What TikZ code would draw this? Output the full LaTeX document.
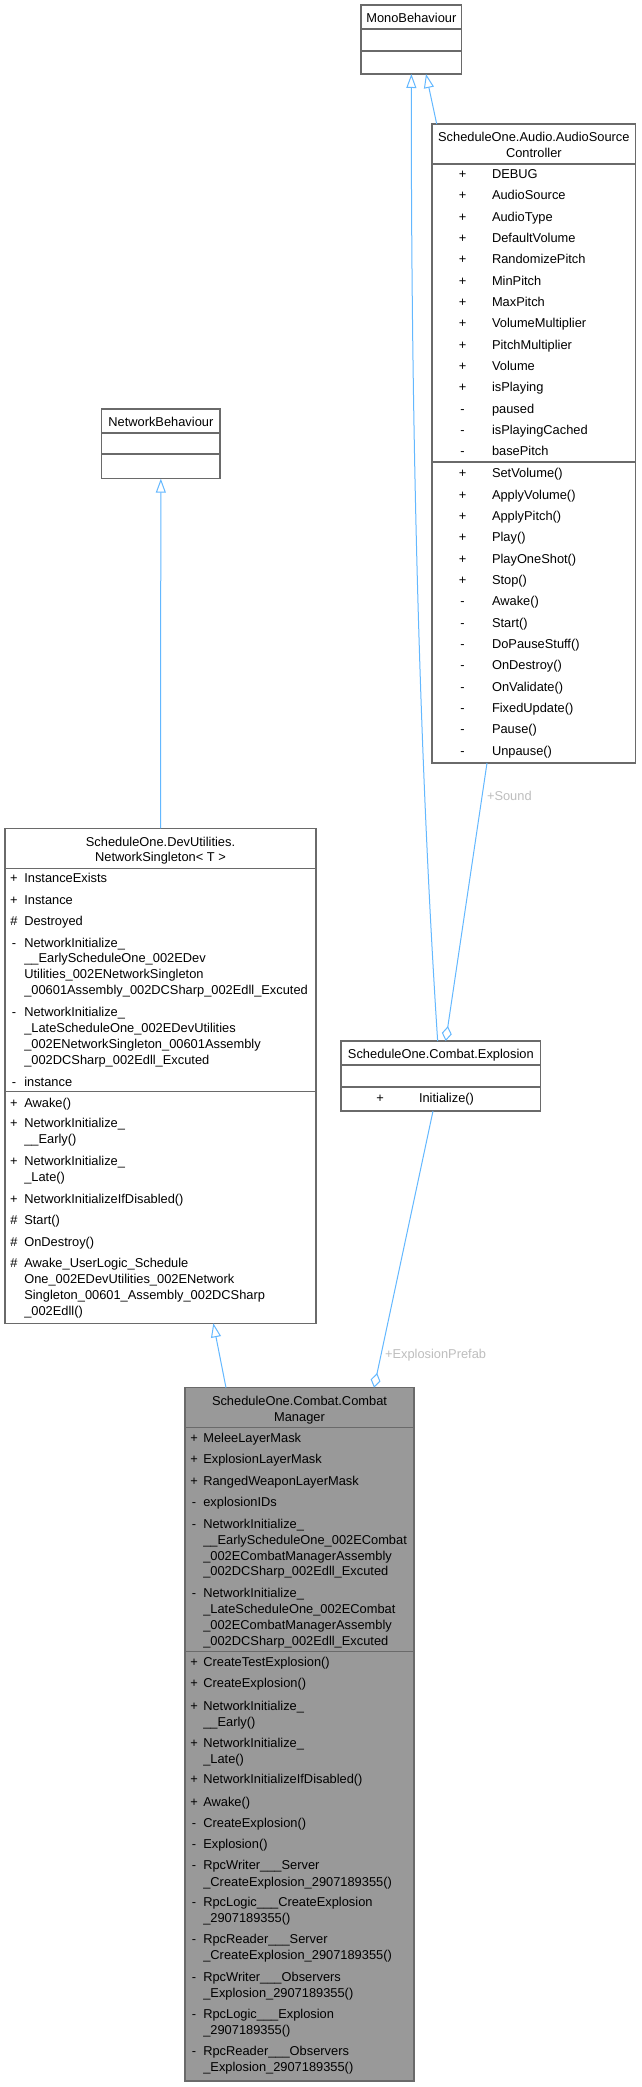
\documentclass[tikz,border=0pt]{standalone}
\usepackage{fontspec}
\setmainfont{Liberation Sans}
\usetikzlibrary{arrows.meta}
\definecolor{edgeblue}{HTML}{63B8FF}
\definecolor{boxgray}{HTML}{6A6A6A}
\definecolor{cmfill}{HTML}{999999}
\definecolor{lblgray}{HTML}{BEBEBE}
\newcounter{tn}
\newcommand\tx[3]{\stepcounter{tn}\edef\nm{t\arabic{tn}}\node[txt,anchor=base west] (\nm) at (#1,#2+4.6) {#3};}
\newcommand\tc[3]{\stepcounter{tn}\edef\nm{t\arabic{tn}}\node[txt,anchor=base] (\nm) at (#1,#2+4.6) {#3};}
\newcommand\mem[5]{\tc{#1}{#3}{#4}\tx{#2}{#3}{#5}}
\tikzset{
  txt/.style={inner sep=0pt, outer sep=0pt, font=\fontsize{12.85}{14}\selectfont, text=black},
  lbl/.style={inner sep=0pt, outer sep=0pt, font=\fontsize{12.85}{14}\selectfont, text=lblgray},
  box/.style={draw=boxgray, line width=1.1pt, fill=white, inner sep=0pt, outer sep=0pt, anchor=north west},
  sepline/.style={draw=boxgray, line width=1.1pt},
  edge/.style={draw=edgeblue, line width=1pt},
  inh/.style={edge, -{Triangle[open, length=14pt, width=10pt]}},
  agg/.style={edge, -{Diamond[open, length=15pt, width=10pt]}},
}
\begin{document}
\begin{tikzpicture}[x=1pt, y=-1pt]
\useasboundingbox (0,0) rectangle (641,2087);
\fill[white] (0,0) rectangle (641,2087);

% ---------- boxes ----------
\node[box, minimum width=100.7pt, minimum height=69pt] (mono) at (361,5) {};
\draw[sepline] (361,29) -- (461.7,29);
\draw[sepline] (361,51) -- (461.7,51);

\node[box, minimum width=203.7pt, minimum height=639pt] (audio) at (432,124) {};
\draw[sepline] (432,164) -- (635.7,164);
\draw[sepline] (432,462) -- (635.7,462);

\node[box, minimum width=118.3pt, minimum height=69.7pt] (nb) at (101.7,409) {};
\draw[sepline] (101.7,433) -- (220,433);
\draw[sepline] (101.7,454) -- (220,454);

\node[box, minimum width=311pt, minimum height=495pt] (ns) at (5,828.3) {};
\draw[sepline] (5,868.3) -- (316,868.3);
\draw[sepline] (5,1091.7) -- (316,1091.7);

\node[box, minimum width=199.7pt, minimum height=70pt] (expl) at (341,1041) {};
\draw[sepline] (341,1065) -- (540.7,1065);
\draw[sepline] (341,1087) -- (540.7,1087);

\node[box, fill=cmfill, minimum width=229pt, minimum height=693.3pt] (cm) at (185,1387.7) {};
\draw[sepline] (185,1427.7) -- (414,1427.7);
\draw[sepline] (185,1651.7) -- (414,1651.7);

% ---------- MonoBehaviour ----------
\tc{411.35}{18}{MonoBehaviour}

% ---------- AudioSourceController ----------
\tc{533.85}{137.3}{ScheduleOne.Audio.AudioSource}
\tc{533.85}{153.3}{Controller}
\mem{462.5}{492}{174}{+}{DEBUG}
\mem{462.5}{492}{195.3}{+}{AudioSource}
\mem{462.5}{492}{216.7}{+}{AudioType}
\mem{462.5}{492}{238}{+}{DefaultVolume}
\mem{462.5}{492}{259.3}{+}{RandomizePitch}
\mem{462.5}{492}{280.7}{+}{MinPitch}
\mem{462.5}{492}{302}{+}{MaxPitch}
\mem{462.5}{492}{323.3}{+}{VolumeMultiplier}
\mem{462.5}{492}{344.7}{+}{PitchMultiplier}
\mem{462.5}{492}{366}{+}{Volume}
\mem{462.5}{492}{387.3}{+}{isPlaying}
\mem{462.5}{492}{408.7}{-}{paused}
\mem{462.5}{492}{430}{-}{isPlayingCached}
\mem{462.5}{492}{451.3}{-}{basePitch}
\mem{462.5}{492}{473.3}{+}{SetVolume()}
\mem{462.5}{492}{494.6}{+}{ApplyVolume()}
\mem{462.5}{492}{516}{+}{ApplyPitch()}
\mem{462.5}{492}{537.3}{+}{Play()}
\mem{462.5}{492}{558.6}{+}{PlayOneShot()}
\mem{462.5}{492}{580}{+}{Stop()}
\mem{462.5}{492}{601.3}{-}{Awake()}
\mem{462.5}{492}{622.6}{-}{Start()}
\mem{462.5}{492}{644}{-}{DoPauseStuff()}
\mem{462.5}{492}{665.3}{-}{OnDestroy()}
\mem{462.5}{492}{686.6}{-}{OnValidate()}
\mem{462.5}{492}{708}{-}{FixedUpdate()}
\mem{462.5}{492}{729.3}{-}{Pause()}
\mem{462.5}{492}{750.6}{-}{Unpause()}

% ---------- NetworkBehaviour ----------
\tc{160.85}{422.3}{NetworkBehaviour}

% ---------- NetworkSingleton ----------
\tc{160.5}{841.7}{ScheduleOne.DevUtilities.}
\tc{160.5}{857.3}{NetworkSingleton< T >}
\mem{14}{24.3}{878.3}{+}{InstanceExists}
\mem{14}{24.3}{899.7}{+}{Instance}
\mem{14}{24.3}{921}{\#}{Destroyed}
\mem{14}{24.3}{942.7}{-}{NetworkInitialize\_}
\tx{24.3}{958.3}{\_\_EarlyScheduleOne\_002EDev}
\tx{24.3}{974.2}{Utilities\_002ENetworkSingleton}
\tx{24.3}{990.1}{\_00601Assembly\_002DCSharp\_002Edll\_Excuted}
\mem{14}{24.3}{1011.7}{-}{NetworkInitialize\_}
\tx{24.3}{1027.6}{\_LateScheduleOne\_002EDevUtilities}
\tx{24.3}{1043.5}{\_002ENetworkSingleton\_00601Assembly}
\tx{24.3}{1059.4}{\_002DCSharp\_002Edll\_Excuted}
\mem{14}{24.3}{1081.7}{-}{instance}
\mem{14}{24.3}{1102.7}{+}{Awake()}
\mem{14}{24.3}{1123.3}{+}{NetworkInitialize\_}
\tx{24.3}{1139.3}{\_\_Early()}
\mem{14}{24.3}{1161}{+}{NetworkInitialize\_}
\tx{24.3}{1177}{\_Late()}
\mem{14}{24.3}{1198.7}{+}{NetworkInitializeIfDisabled()}
\mem{14}{24.3}{1220}{\#}{Start()}
\mem{14}{24.3}{1241.7}{\#}{OnDestroy()}
\mem{14}{24.3}{1262.7}{\#}{Awake\_UserLogic\_Schedule}
\tx{24.3}{1278.6}{One\_002EDevUtilities\_002ENetwork}
\tx{24.3}{1294.5}{Singleton\_00601\_Assembly\_002DCSharp}
\tx{24.3}{1310.4}{\_002Edll()}

% ---------- Explosion ----------
\tc{440.85}{1054}{ScheduleOne.Combat.Explosion}
\mem{380}{419}{1098}{+}{Initialize()}

% ---------- CombatManager ----------
\tc{299.5}{1400.7}{ScheduleOne.Combat.Combat}
\tc{299.5}{1416.7}{Manager}
\mem{194}{203.3}{1437.7}{+}{MeleeLayerMask}
\mem{194}{203.3}{1459}{+}{ExplosionLayerMask}
\mem{194}{203.3}{1480.7}{+}{RangedWeaponLayerMask}
\mem{194}{203.3}{1502.3}{-}{explosionIDs}
\mem{194}{203.3}{1523.7}{-}{NetworkInitialize\_}
\tx{203.3}{1539.7}{\_\_EarlyScheduleOne\_002ECombat}
\tx{203.3}{1555.7}{\_002ECombatManagerAssembly}
\tx{203.3}{1571.3}{\_002DCSharp\_002Edll\_Excuted}
\mem{194}{203.3}{1593.3}{-}{NetworkInitialize\_}
\tx{203.3}{1609}{\_LateScheduleOne\_002ECombat}
\tx{203.3}{1625}{\_002ECombatManagerAssembly}
\tx{203.3}{1641}{\_002DCSharp\_002Edll\_Excuted}
\mem{194}{203.3}{1662.3}{+}{CreateTestExplosion()}
\mem{194}{203.3}{1683.3}{+}{CreateExplosion()}
\mem{194}{203.3}{1705.7}{+}{NetworkInitialize\_}
\tx{203.3}{1721.7}{\_\_Early()}
\mem{194}{203.3}{1742.7}{+}{NetworkInitialize\_}
\tx{203.3}{1758.7}{\_Late()}
\mem{194}{203.3}{1779.3}{+}{NetworkInitializeIfDisabled()}
\mem{194}{203.3}{1801.7}{+}{Awake()}
\mem{194}{203.3}{1823.3}{-}{CreateExplosion()}
\mem{194}{203.3}{1844}{-}{Explosion()}
\mem{194}{203.3}{1865}{-}{RpcWriter\_\_\_Server}
\tx{203.3}{1881.7}{\_CreateExplosion\_2907189355()}
\mem{194}{203.3}{1902.3}{-}{RpcLogic\_\_\_CreateExplosion}
\tx{203.3}{1918.3}{\_2907189355()}
\mem{194}{203.3}{1939.3}{-}{RpcReader\_\_\_Server}
\tx{203.3}{1955.3}{\_CreateExplosion\_2907189355()}
\mem{194}{203.3}{1976.7}{-}{RpcWriter\_\_\_Observers}
\tx{203.3}{1992.7}{\_Explosion\_2907189355()}
\mem{194}{203.3}{2014}{-}{RpcLogic\_\_\_Explosion}
\tx{203.3}{2030}{\_2907189355()}
\mem{194}{203.3}{2051}{-}{RpcReader\_\_\_Observers}
\tx{203.3}{2067}{\_Explosion\_2907189355()}

% ---------- connectors ----------
\draw[inh] (ns.north) -- (nb.south);
\draw[inh] ([xshift=-73.5pt]cm.north) -- ([xshift=52.8pt]ns.south);
\draw[inh] ([xshift=4.7pt]audio.north west) -- ([xshift=14.65pt]mono.south);
\draw[inh] ([xshift=-3.2pt]expl.north) .. controls (418.2,741) and (411,400) .. (mono.south);
\draw[agg] ([xshift=55pt]audio.south west) -- ([xshift=4.85pt]expl.north);
\node[lbl, anchor=west] (lsound) at (487,796) {+Sound};
\draw[agg] ([xshift=-7.85pt]expl.south) -- ([xshift=74.5pt]cm.north);
\node[lbl, anchor=west] (lexpl) at (385,1355) {+ExplosionPrefab};
\end{tikzpicture}
\end{document}
